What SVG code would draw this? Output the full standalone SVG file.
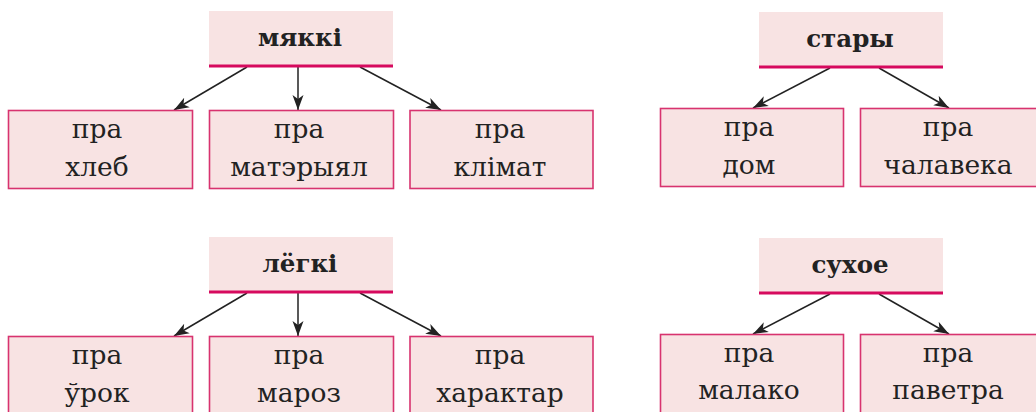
<svg xmlns="http://www.w3.org/2000/svg" width="1036" height="412" viewBox="0 0 1036 412">
<style>
.bg{fill:#ffffff}
.parent{fill:#f8e3e3;stroke:none}
.pline{stroke:#d60a5e;stroke-width:3}
.child{fill:#f8e3e3;stroke:#d8336f;stroke-width:1.6}
.t{font-family:"DejaVu Serif","Liberation Serif",serif;font-size:26.5px;fill:#222;text-anchor:middle}
.tb{font-family:"DejaVu Serif","Liberation Serif",serif;font-size:24.5px;font-weight:bold;fill:#222;text-anchor:middle}
.c{stroke:#222;stroke-width:1.5;fill:none;marker-end:url(#ah)}
</style>
<defs>
<marker id="ah" markerUnits="userSpaceOnUse" markerWidth="16" markerHeight="12" viewBox="0 0 16 12" refX="15" refY="6" orient="auto">
<path d="M0,0.5 L15,6 L0,11.5 L4,6 z" fill="#222"/>
</marker>
</defs>
<rect class="bg" x="0" y="0" width="1036" height="412"/>
<g id="connectors">
<line class="c" x1="247" y1="67" x2="174" y2="110"/>
<line class="c" x1="298" y1="67" x2="298" y2="110"/>
<line class="c" x1="360" y1="67" x2="441" y2="110"/>
<line class="c" x1="830" y1="68" x2="753" y2="108"/>
<line class="c" x1="879" y1="68" x2="949" y2="108"/>
<line class="c" x1="247" y1="293" x2="174" y2="336"/>
<line class="c" x1="298" y1="293" x2="298" y2="336"/>
<line class="c" x1="360" y1="293" x2="441" y2="336"/>
<line class="c" x1="830" y1="294" x2="753" y2="334"/>
<line class="c" x1="879" y1="294" x2="949" y2="334"/>
</g>
<g id="n-myakki"><rect class="parent" x="209" y="11" width="184" height="55"/><line class="pline" x1="209" y1="66" x2="393" y2="66"/><text class="tb" x="300" y="46">мяккі</text></g>
<g id="n-khleb"><rect class="child" x="8.5" y="110.5" width="184" height="78"/><text class="t" x="97" y="138">пра</text><text class="t" x="97" y="176">хлеб</text></g>
<g id="n-materyyal"><rect class="child" x="209.5" y="110.5" width="184" height="78"/><text class="t" x="299" y="138">пра</text><text class="t" x="299" y="176">матэрыял</text></g>
<g id="n-klimat"><rect class="child" x="410" y="110.5" width="183" height="78"/><text class="t" x="500" y="138">пра</text><text class="t" x="500" y="176">клімат</text></g>
<g id="n-stary"><rect class="parent" x="759" y="12" width="184" height="55"/><line class="pline" x1="759" y1="67" x2="943" y2="67"/><text class="tb" x="850" y="47">стары</text></g>
<g id="n-dom"><rect class="child" x="660.5" y="108.5" width="183" height="78"/><text class="t" x="749" y="136">пра</text><text class="t" x="749" y="174">дом</text></g>
<g id="n-chalaveka"><rect class="child" x="860.5" y="108.5" width="190" height="78"/><text class="t" x="948" y="136">пра</text><text class="t" x="948" y="174">чалавека</text></g>
<g id="n-lyogki"><rect class="parent" x="209" y="237" width="184" height="55"/><line class="pline" x1="209" y1="292" x2="393" y2="292"/><text class="tb" x="300" y="272">лёгкі</text></g>
<g id="n-urok"><rect class="child" x="8.5" y="336.5" width="184" height="80"/><text class="t" x="97" y="364">пра</text><text class="t" x="97" y="402">ўрок</text></g>
<g id="n-maroz"><rect class="child" x="209.5" y="336.5" width="184" height="80"/><text class="t" x="299" y="364">пра</text><text class="t" x="299" y="402">мароз</text></g>
<g id="n-kharaktar"><rect class="child" x="410" y="336.5" width="183" height="80"/><text class="t" x="500" y="364">пра</text><text class="t" x="500" y="402">характар</text></g>
<g id="n-sukhoe"><rect class="parent" x="759" y="238" width="184" height="55"/><line class="pline" x1="759" y1="293" x2="943" y2="293"/><text class="tb" x="850" y="273">сухое</text></g>
<g id="n-malako"><rect class="child" x="660.5" y="334.5" width="183" height="80"/><text class="t" x="749" y="362">пра</text><text class="t" x="749" y="399">малако</text></g>
<g id="n-pavetra"><rect class="child" x="860.5" y="334.5" width="190" height="80"/><text class="t" x="948" y="362">пра</text><text class="t" x="948" y="399">паветра</text></g>
</svg>
